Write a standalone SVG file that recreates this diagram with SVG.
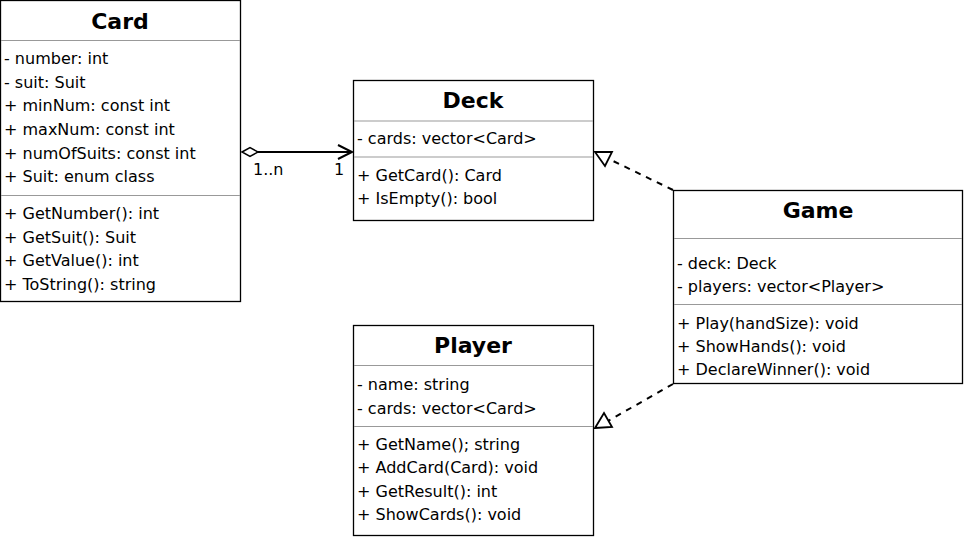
<svg xmlns="http://www.w3.org/2000/svg" width="964" height="537" viewBox="0 0 964 537">
<style>
.box{fill:#fff;stroke:#000;stroke-width:1.3}
.sep{stroke:#999;stroke-width:1.2}
.t{font-family:"Comic Sans MS","DejaVu Sans",sans-serif;font-size:16px;fill:#000}
.h{font-family:"Comic Sans MS","DejaVu Sans",sans-serif;font-size:22px;font-weight:bold;fill:#000;text-anchor:middle}
.ln{fill:none;stroke:#000;stroke-width:2}
.dash{fill:none;stroke:#000;stroke-width:2;stroke-dasharray:6,6}
</style>
<rect width="964" height="537" fill="#fff"/>
<g id="card">
<rect class="box" x="0.5" y="0.5" width="240" height="301"/>
<line class="sep" x1="1" y1="40.5" x2="240" y2="40.5"/>
<line class="sep" x1="1" y1="195.5" x2="240" y2="195.5"/>
<text class="h" x="120" y="29">Card</text>
<text class="t" x="4" y="64">- number: int</text>
<text class="t" x="4" y="88">- suit: Suit</text>
<text class="t" x="4" y="111">+ minNum: const int</text>
<text class="t" x="4" y="135">+ maxNum: const int</text>
<text class="t" x="4" y="159">+ numOfSuits: const int</text>
<text class="t" x="4" y="182">+ Suit: enum class</text>
<text class="t" x="4" y="219">+ GetNumber(): int</text>
<text class="t" x="4" y="243">+ GetSuit(): Suit</text>
<text class="t" x="4" y="266">+ GetValue(): int</text>
<text class="t" x="4" y="290">+ ToString(): string</text>
</g>
<g id="deck">
<rect class="box" x="353.5" y="80.5" width="240" height="140"/>
<line class="sep" x1="354" y1="121" x2="593" y2="121"/>
<line class="sep" x1="354" y1="157" x2="593" y2="157"/>
<text class="h" x="473" y="108">Deck</text>
<text class="t" x="357" y="144">- cards: vector&lt;Card&gt;</text>
<text class="t" x="357" y="181">+ GetCard(): Card</text>
<text class="t" x="357" y="204">+ IsEmpty(): bool</text>
</g>
<g id="game">
<rect class="box" x="673.5" y="190.5" width="289" height="193"/>
<line class="sep" x1="674" y1="238.5" x2="962" y2="238.5"/>
<line class="sep" x1="674" y1="304.5" x2="962" y2="304.5"/>
<text class="h" x="818" y="218">Game</text>
<text class="t" x="677" y="269">- deck: Deck</text>
<text class="t" x="677" y="292">- players: vector&lt;Player&gt;</text>
<text class="t" x="677" y="329">+ Play(handSize): void</text>
<text class="t" x="677" y="352">+ ShowHands(): void</text>
<text class="t" x="677" y="375">+ DeclareWinner(): void</text>
</g>
<g id="player">
<rect class="box" x="353.5" y="325.5" width="240" height="210"/>
<line class="sep" x1="354" y1="365.5" x2="593" y2="365.5"/>
<line class="sep" x1="354" y1="426.5" x2="593" y2="426.5"/>
<text class="h" x="473" y="353">Player</text>
<text class="t" x="357" y="390">- name: string</text>
<text class="t" x="357" y="414">- cards: vector&lt;Card&gt;</text>
<text class="t" x="357" y="450">+ GetName(); string</text>
<text class="t" x="357" y="473">+ AddCard(Card): void</text>
<text class="t" x="357" y="497">+ GetResult(): int</text>
<text class="t" x="357" y="520">+ ShowCards(): void</text>
</g>
<g id="connectors">
<line class="ln" x1="258" y1="152" x2="352" y2="152"/>
<polygon points="242,152 250,147.5 258,152 250,156.5" fill="#fff" stroke="#000" stroke-width="1.5"/>
<polyline class="ln" points="338,145 352,152 338,159"/>
<text class="t" x="253" y="175">1..n</text>
<text class="t" x="334" y="175">1</text>
<line class="dash" x1="673" y1="190" x2="609" y2="159"/>
<polygon points="595,152 612,152 605,166" fill="#fff" stroke="#000" stroke-width="1.8"/>
<line class="dash" x1="673" y1="384" x2="608" y2="421"/>
<polygon points="595,428 612,427 604,413" fill="#fff" stroke="#000" stroke-width="1.8"/>
</g>
</svg>
